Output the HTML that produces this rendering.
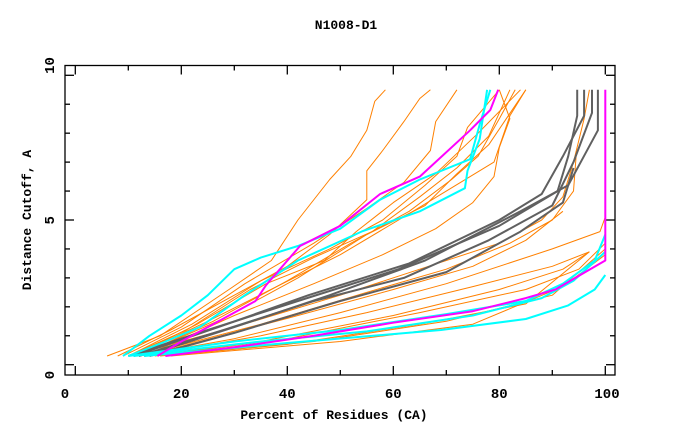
<!DOCTYPE html>
<html><head><meta charset="utf-8"><style>
body{margin:0;background:#fff}
svg{display:block}
text{font-family:"Liberation Mono",monospace;font-weight:bold;font-size:13px;fill:#000}
.tl{font-size:14px}
</style></head><body>
<svg id="chart" width="680" height="440" viewBox="0 0 680 440" xmlns="http://www.w3.org/2000/svg">
<text x="346" y="29" text-anchor="middle">N1008-D1</text>
<text x="334" y="419" text-anchor="middle">Percent of Residues (CA)</text>
<text x="0" y="0" text-anchor="middle" transform="translate(31,220) rotate(-90)">Distance Cutoff, A</text>
<g id="ticks"></g>
<g id="series"></g>
<rect x="65" y="65.5" width="550" height="309.5" fill="none" stroke="#000" stroke-width="1.3"/>
</svg>
<script>
const xTicks=[0,20,40,60,80,100];
const xMinor=[10,30,50,70,90];
const yTicks=[0,5,10];
const yMinor=[1,2,3,4,6,7,8,9];
const orange1=[[6,0.3],[16,1],[29,2.6],[37,3.6],[42,5],[48,6.4],[52,7.2],[55,8.1],[56.5,9.1],[58.5,9.5]];
const orange2=[[8,0.3],[18,1.2],[30,2.4],[40,3.4],[48,4.5],[55,5.7],[55,6.7],[58,7.4],[62,8.4],[65,9.2],[67,9.5]];
const orange3=[[9,0.3],[20,1.3],[32,2.8],[45,4.2],[55,5.4],[62,6.3],[67,7.4],[68,8.4],[72,9.5]];
const orange4=[[10,0.3],[22,1.4],[35,2.9],[48,4.0],[58,5.0],[66,6.2],[72,7.2],[74,8.2],[80,9.5]];
const orange5=[[10,0.3],[21,1.2],[33,2.6],[45,3.7],[56,4.6],[65,5.8],[72,6.8],[78,7.9],[82,9.5]];
const orange6=[[11,0.3],[23,1.4],[36,2.8],[47,3.6],[53,4.6],[60,5.6],[68,6.6],[76,8.0],[84,9.5]];
const orange7=[[11,0.3],[25,1.5],[38,2.7],[50,3.8],[61,5.0],[70,6.0],[79,7.0],[82,8.6],[85,9.5]];
const orange8=[[12,0.3],[26,1.5],[40,2.9],[52,4.2],[63,5.3],[71,6.4],[76,7.2],[80,8.5],[83,9.5]];
const orange9=[[12,0.3],[28,1.6],[42,3.0],[55,4.5],[66,5.5],[72,6.6],[78,7.6],[85,9.5]];
const orange10=[[13,0.3],[30,1.7],[45,2.8],[58,3.8],[68,4.7],[75,5.6],[79,6.5],[80,7.5],[82,8.5],[80,9.5]];
const orange11=[[10,0.3],[30,1.3],[50,2.4],[65,3.3],[80,4.2],[88,5.0],[92,5.8],[94,7.0],[96,8.5],[97,9.5]];
const orange12=[[12,0.3],[35,1.4],[55,2.5],[70,3.3],[82,4.2],[90,5.0],[94,6.0],[94.5,7.2]];
const orange13=[[13,0.3],[40,1.6],[60,2.6],[75,3.4],[85,4.3],[92,5.3]];
const orange14=[[12,0.3],[30,0.9],[50,1.8],[70,2.8],[90,4.0],[99,4.6],[100,5.1]];
const orange15=[[13,0.3],[35,1.0],[55,1.8],[75,2.7],[90,3.4],[97,3.9]];
const orange16=[[14,0.3],[35,0.8],[60,1.7],[80,2.6],[92,3.3],[97,3.9]];
const orange17=[[15,0.3],[40,0.9],[65,1.8],[85,2.6],[95,3.3],[100,4.2]];
const orange18=[[16,0.3],[40,0.7],[65,1.4],[85,2.1],[97,3.9]];
const orange19=[[17,0.3],[45,0.8],[70,1.5],[90,2.4],[100,4.0]];
const orange20=[[18,0.3],[50,0.8],[75,1.4],[92,2.7],[100,3.8]];
const gray1=[[10,0.3],[25,1.2],[42,2.2],[61,3.3],[80,4.8],[91,6.0],[93,7.2],[94.7,8.6],[94.7,9.5]];
const gray2=[[11,0.3],[27,1.3],[44,2.4],[63,3.5],[80,5.0],[88,5.9],[92,7.2],[96,8.6],[96,9.5]];
const gray3=[[12,0.3],[28,1.2],[45,2.2],[62,3.0],[78,4.3],[90,5.5],[94,7.0],[97.5,8.7],[97.5,9.5]];
const gray4=[[13,0.3],[30,1.3],[48,2.4],[66,3.6],[84,5.3],[93,6.2],[98.6,8.1],[98.6,9.5]];
const gray5=[[14,0.3],[30,1.1],[50,2.2],[70,3.2],[84,4.6],[92,5.6],[94,6.8]];
const cyan1=[[9,0.3],[14,1],[20,1.7],[25,2.4],[30,3.3],[35,3.7],[42,4.1],[50,4.7],[57.5,5.7],[65,6.4],[74.5,7.1],[76.3,8.3],[78.3,9.5]];
const cyan2=[[10,0.3],[17,0.8],[23.5,1.3],[32,2.4],[42,3.6],[54,4.6],[65,5.3],[73.5,6.1],[74,6.7],[76.3,7.8],[77.7,9.5]];
const cyan3=[[10,0.3],[30,0.8],[50,1.2],[70,1.75],[85,2.2],[92,2.8],[98,3.6],[100,4.5]];
const cyan4=[[11,0.3],[35,0.8],[55,1.15],[75,1.7],[88,2.3],[94,2.9],[100,3.9]];
const cyan5=[[13,0.3],[40,0.75],[69,1.2],[85,1.58],[93,2.05],[98,2.6],[100,3.1]];
const magenta1=[[15.5,0.3],[20,0.8],[26,1.4],[34,2.2],[36,2.75],[42.4,4.1],[50,4.8],[57.5,5.9],[65,6.5],[74.5,8.1],[78.3,8.8],[79.8,9.5]];
const magenta2=[[17,0.3],[30,0.6],[45,1.0],[60,1.45],[75,1.85],[85,2.3],[90.6,2.6],[96.2,3.2],[100,3.6],[100,9.5]];

const NS="http://www.w3.org/2000/svg";
function xs(v){return 75.3+5.3*v;}
function ys(v){return 364.7-28.94*v;}
function xl(v){return v===0?65:(v===100?607:xs(v));}
function yl(v){return 375-30.95*v;}
const tg=document.getElementById('ticks');
function line(x1,y1,x2,y2,name){
  const l=document.createElementNS(NS,'line');
  l.setAttribute('x1',x1);l.setAttribute('y1',y1);l.setAttribute('x2',x2);l.setAttribute('y2',y2);
  l.setAttribute('stroke','#000');l.setAttribute('stroke-width','1.3');
  
  
  tg.appendChild(l);
}
function label(x,y,t,rot,name){
  const e=document.createElementNS(NS,'text');
  e.setAttribute('text-anchor','middle');
  e.setAttribute('class','tl');
  if(rot){e.setAttribute('transform','translate('+x+','+y+') rotate(-90)');e.setAttribute('x',0);e.setAttribute('y',0);}
  else{e.setAttribute('x',x);e.setAttribute('y',y);}
  e.textContent=t;
  
  
  tg.appendChild(e);
}
xTicks.forEach(v=>{const x=xs(v);line(x,375,x,366,'x-major-tick');line(x,65.5,x,74.5,'x-major-tick-top');label(xl(v),398,String(v),false,'x-tick-label');});
xMinor.forEach(v=>{const x=xs(v);line(x,375,x,370,'x-minor-tick');line(x,65.5,x,70.5,'x-minor-tick-top');});
yTicks.forEach(v=>{const y=ys(v);line(65,y,74,y,'y-major-tick');line(615,y,606,y,'y-major-tick-right');label(54,yl(v),String(v),true,'y-tick-label');});
yMinor.forEach(v=>{const y=ys(v);line(65,y,70,y,'y-minor-tick');line(615,y,610,y,'y-minor-tick-right');});
const sg=document.getElementById('series');
function draw(data,color,w,name){
  const p=document.createElementNS(NS,'polyline');
  p.setAttribute('points',data.map(d=>xs(d[0]).toFixed(1)+','+ys(d[1]).toFixed(1)).join(' '));
  p.setAttribute('fill','none');p.setAttribute('stroke',color);p.setAttribute('stroke-width',w);
  p.setAttribute('stroke-linejoin','round');
  
  
  sg.appendChild(p);
}
[orange1,orange2,orange3,orange4,orange5,orange6,orange7,orange8,orange9,orange10,orange11,orange12,orange13,orange14,orange15,orange16,orange17,orange18,orange19,orange20].forEach((s,i)=>draw(s,'#ff8000',1,'orange-series-'+(i+1)));
[gray1,gray2,gray3,gray4,gray5].forEach((s,i)=>draw(s,'#606060',2,'gray-series-'+(i+1)));
[cyan1,cyan2,cyan3,cyan4,cyan5].forEach((s,i)=>draw(s,'#00ffff',2,'cyan-series-'+(i+1)));
[magenta1,magenta2].forEach((s,i)=>draw(s,'#ff00ff',2,'magenta-series-'+(i+1)));
</script>
</body></html>
